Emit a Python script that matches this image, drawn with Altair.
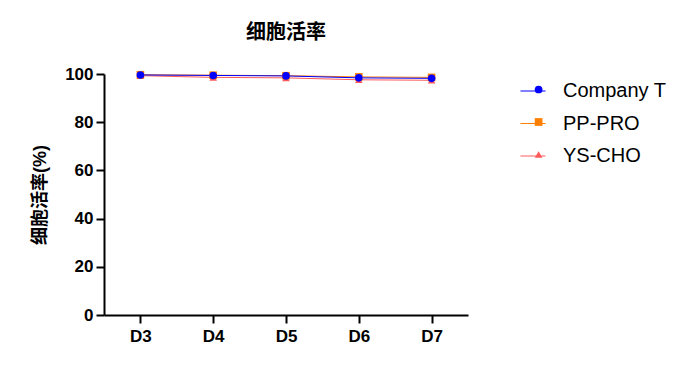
import altair as alt
import pandas as pd

days = ["D3", "D4", "D5", "D6", "D7"]
series = ["Company T", "PP-PRO", "YS-CHO"]
company_t = [99.6, 99.4, 99.2, 98.4, 98.2]
pp_pro = [99.7, 99.5, 99.3, 98.8, 98.6]
ys_cho = [99.3, 98.6, 98.4, 97.6, 97.4]

colors = ["#0000FF", "#FF7F00", "#FF5A5A"]
shapes = ["circle", "square", "triangle-up"]
series_marker = [s + " " for s in series]  # separate domain for the marker legend

rows = []
# draw order: YS-CHO bottom, Company T on top
for name, vals, order in [("YS-CHO", ys_cho, 0), ("PP-PRO", pp_pro, 1), ("Company T", company_t, 2)]:
    for d, v in zip(days, vals):
        rows.append({"Day": d, "Series": name, "SeriesM": name + " ", "Value": v, "ord": order})
df = pd.DataFrame(rows)

FONT = "Liberation Sans, Arial, Noto Sans CJK SC"
LX, LY = 416, 4

x = alt.X("Day:N", sort=days, scale=alt.Scale(type="point", padding=0.5),
          axis=alt.Axis(title=None, labelAngle=0))
y = alt.Y("Value:Q", scale=alt.Scale(domain=[0, 100], nice=False),
          axis=alt.Axis(title="细胞活率(%)", values=[0, 20, 40, 60, 80, 100]))

line_legend = alt.Legend(title=None, orient="none", legendX=LX, legendY=LY,
                         symbolType="stroke", symbolSize=625, symbolStrokeWidth=1,
                         labelFontSize=20, labelFont=FONT, labelColor="#000000",
                         rowPadding=9.5, labelOffset=17)
marker_legend = alt.Legend(title=None, orient="none", legendX=LX + 8.6, legendY=LY + 1.5,
                           symbolSize=60, symbolStrokeWidth=0,
                           labelFontSize=20, labelFont=FONT, labelOpacity=0, labelExpr="' '",
                           rowPadding=12.5, labelOffset=17)

base = alt.Chart(df)
lines = base.mark_line(strokeWidth=1).encode(
    x=x, y=y,
    color=alt.Color("Series:N", scale=alt.Scale(domain=series, range=colors), legend=line_legend),
    detail="Series:N", order="ord:Q")

points = base.mark_point(filled=True, size=58, opacity=1, strokeWidth=0).encode(
    x=x, y=y,
    fill=alt.Fill("SeriesM:N", scale=alt.Scale(domain=series_marker, range=colors), legend=marker_legend),
    shape=alt.Shape("SeriesM:N", scale=alt.Scale(domain=series_marker, range=shapes), legend=marker_legend),
)

chart = alt.layer(lines, points).properties(
    width=364, height=241,
    autosize=alt.AutoSizeParams(type="none"),
    padding={"left": 104, "top": 74, "right": 219, "bottom": 56},
    title=alt.TitleParams("细胞活率", font=FONT, fontSize=20, fontWeight="bold",
                          anchor="middle", offset=22, color="#000000"),
).configure_view(stroke=None).configure_axis(
    domainColor="#000000", domainWidth=2, tickColor="#000000", tickWidth=2, tickSize=8,
    labelFont=FONT, labelFontSize=17, labelFontWeight="bold", labelColor="#000000",
    titleFont=FONT, titleFontSize=18, titleFontWeight="bold", titleColor="#000000",
    grid=False,
).configure_axisY(titlePadding=15, labelPadding=3).configure_axisX(labelPadding=5)

chart.save("out.html", embed_options={"renderer": "svg", "actions": False})
